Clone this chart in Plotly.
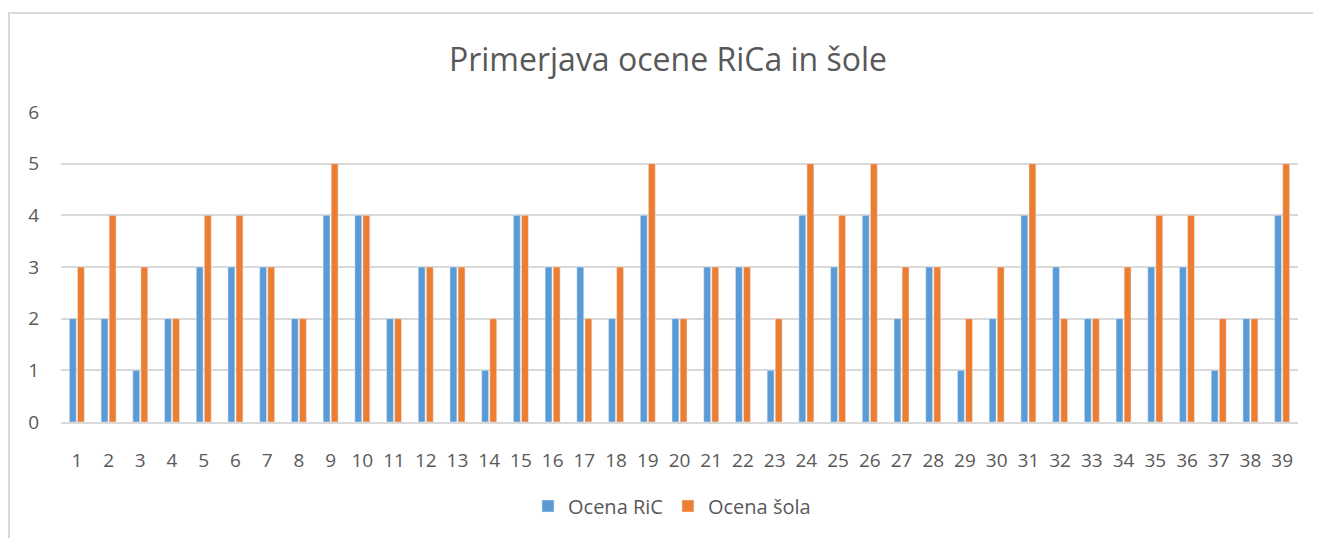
import plotly.graph_objects as go

categories = [str(i) for i in range(1, 40)]
ocena_ric = [2, 2, 1, 2, 3, 3, 3, 2, 4, 4, 2, 3, 3, 1, 4, 3, 3, 2, 4, 2,
             3, 3, 1, 4, 3, 4, 2, 3, 1, 2, 4, 3, 2, 2, 3, 3, 1, 2, 4]
ocena_sola = [3, 4, 3, 2, 4, 4, 3, 2, 5, 4, 2, 3, 3, 2, 4, 3, 2, 3, 5, 2,
              3, 3, 2, 5, 4, 5, 3, 3, 2, 3, 5, 2, 2, 3, 4, 4, 2, 2, 5]

FONT = "Open Sans"
GREY = "#595959"

# page body has an 8px margin, so positions are compensated
L, R, T, B = 53, 31, 104, 124
PW = 1321 - L - R
PH = 538 - T - B

fig = go.Figure()
fig.add_trace(go.Bar(x=categories, y=ocena_ric, name="Ocena RiC", marker_color="#5B9BD5"))
fig.add_trace(go.Bar(x=categories, y=ocena_sola, name="Ocena šola", marker_color="#ED7D31"))

fig.update_layout(
    width=1321, height=538,
    margin=dict(l=L, r=R, t=T, b=B),
    paper_bgcolor="white", plot_bgcolor="white",
    barmode="group", bargap=0.49, bargroupgap=0.15,
    title=dict(text="Primerjava ocene RiCa in šole", x=(668 - 8) / 1321, xanchor="center",
               y=1 - 52 / 538, yanchor="middle",
               font=dict(family=FONT, size=32, color=GREY)),
    font=dict(family=FONT, color=GREY),
    legend=dict(orientation="h", x=(672 - 8 - L) / PW, xanchor="center",
                y=(422 - 506) / PH, yanchor="middle",
                font=dict(size=20, color=GREY), traceorder="normal"),
    showlegend=True,
)
fig.update_xaxes(type="category", showgrid=False, showline=True, linecolor="#D9D9D9", linewidth=2,
                 ticks="", ticklabelstandoff=20,
                 tickfont=dict(size=19, color=GREY))
fig.update_yaxes(range=[0, 6], dtick=1, showgrid=True, gridcolor="#D9D9D9", gridwidth=2,
                 zeroline=False, ticks="", ticklabelstandoff=21,
                 tickfont=dict(size=19, color=GREY))

fig.add_shape(type="rect", xref="paper", yref="paper",
              x0=(9 - 8 - L) / PW, x1=1.2, y0=-1.0, y1=1 + (112 - 13) / PH,
              line=dict(color="#D9D9D9", width=2), fillcolor="rgba(0,0,0,0)", layer="below")

fig.write_html("out.html")
